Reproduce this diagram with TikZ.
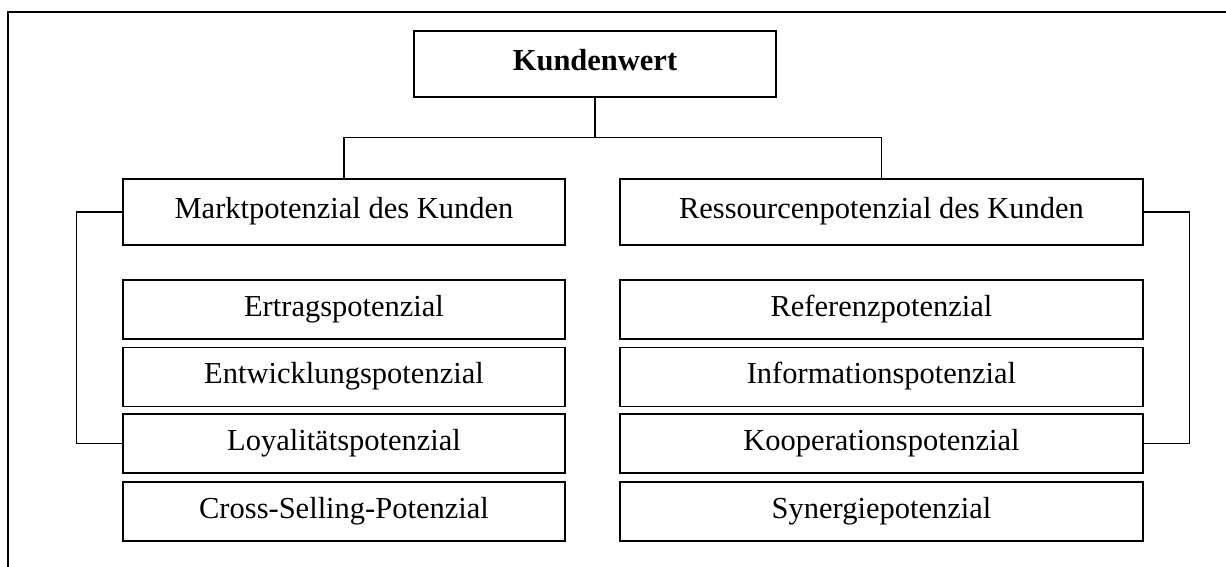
\documentclass[tikz,border=0pt]{standalone}
\usepackage{fontspec}
\setmainfont{Liberation Serif}
\begin{document}
\begin{tikzpicture}[x=1pt,y=-1pt,
  box/.style={draw,line width=1.3pt,rectangle,inner sep=0pt,
    font=\fontsize{30.5}{34}\selectfont,text height=21.3pt,text depth=7.6pt},
  top/.style={box,minimum width=362pt,minimum height=66pt,font=\fontsize{30.5}{34}\selectfont\bfseries},
  mid/.style={box,minimum height=66pt},
  lbox/.style={box,minimum width=442pt,minimum height=59pt},
  rbox/.style={box,minimum width=523pt,minimum height=59pt},
  conn/.style={line width=1.3pt},
  frame/.style={line width=1.4pt}]
\useasboundingbox (0,0) rectangle (1226,567);
% outer frame (cut off at right and bottom)
\draw[frame] (1230,12) -- (8,12) -- (8,571);
% top node
\node[top] (kw) at (595,64) {Kundenwert};
% middle nodes
\node[mid,minimum width=442pt] (markt) at (344,212) {Marktpotenzial des Kunden};
\node[mid,minimum width=523pt] (ress) at (881.5,212) {Ressourcenpotenzial des Kunden};
% left list
\node[lbox] (ertrag) at (344,309.5) {Ertragspotenzial};
\node[lbox] (entw) at (344,376.8) {Entwicklungspotenzial};
\node[lbox] (loyal) at (344,443.5) {Loyalitätspotenzial};
\node[lbox] (cross) at (344,511.4) {Cross-Selling-Potenzial};
% right list
\node[rbox] (ref) at (881.5,309.5) {Referenzpotenzial};
\node[rbox] (info) at (881.5,376.8) {Informationspotenzial};
\node[rbox] (koop) at (881.5,443.5) {Kooperationspotenzial};
\node[rbox] (syn) at (881.5,511.4) {Synergiepotenzial};
% tree connectors
\coordinate (j) at (595,137.5);
\draw[conn] (kw.south) -- (j);
\draw[conn] (markt.north) |- (j) -| (ress.north);
% brackets
\draw[conn] (markt.west) -- ++(-46,0) |- (loyal.west);
\draw[conn] (ress.east) -- ++(46,0) |- (koop.east);
\end{tikzpicture}
\end{document}
